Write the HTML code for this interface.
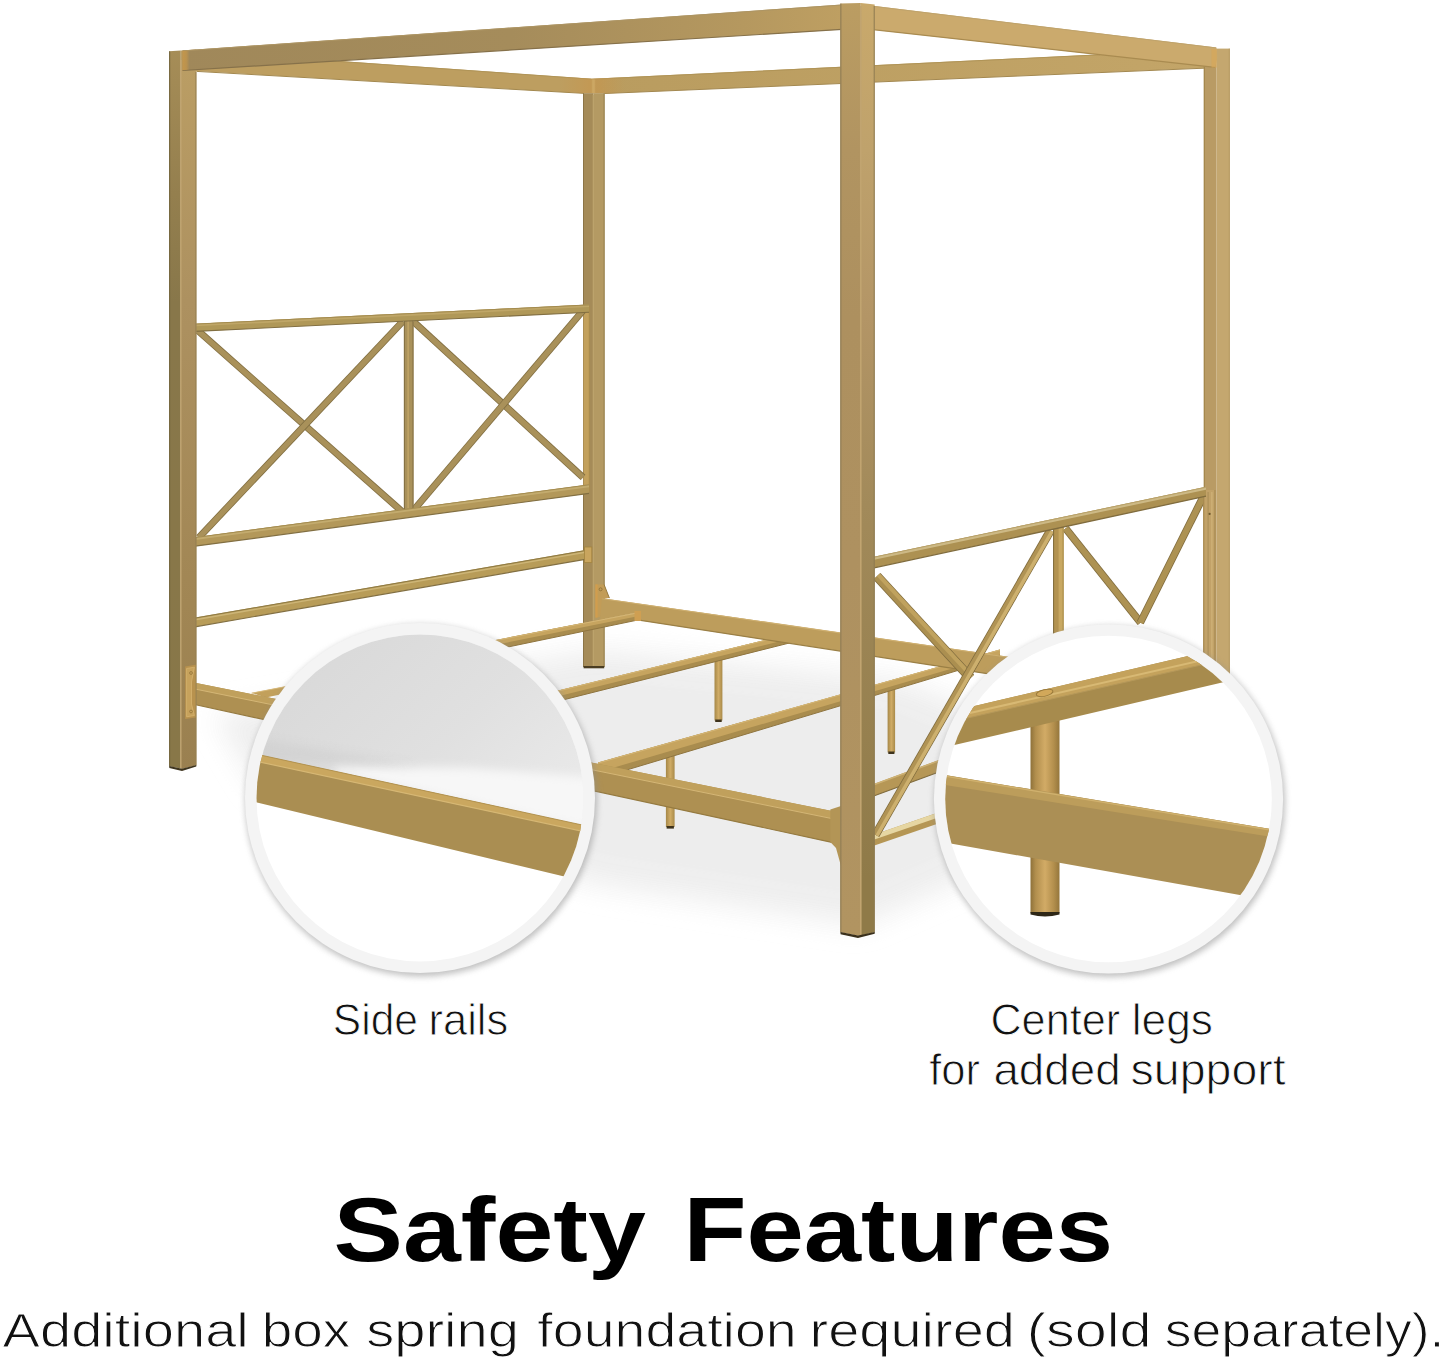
<!DOCTYPE html>
<html lang="en"><head><meta charset="utf-8"><title>Safety Features</title>
<style>html,body{margin:0;padding:0;background:#fff}body{width:1445px;height:1358px;overflow:hidden}svg{display:block}</style>
</head><body>
<svg width="1445" height="1358" viewBox="0 0 1445 1358">
<defs>
<filter id="fs" x="-20%" y="-20%" width="140%" height="140%"><feGaussianBlur stdDeviation="14"/></filter>
<filter id="wb" x="-10%" y="-40%" width="120%" height="180%"><feGaussianBlur stdDeviation="5"/></filter>
<filter id="ringsh" x="-10%" y="-10%" width="120%" height="120%"><feGaussianBlur stdDeviation="3.0"/></filter>
<clipPath id="cl"><circle cx="420.0" cy="798.0" r="163.5"/></clipPath>
<clipPath id="cr"><circle cx="1108.5" cy="799" r="163.3"/></clipPath>
<linearGradient id="lgrey" gradientUnits="userSpaceOnUse" x1="330" y1="640" x2="520" y2="840">
<stop offset="0" stop-color="#d9d9d9"/><stop offset="0.55" stop-color="#e0e0e0"/><stop offset="1" stop-color="#e9e9e9"/></linearGradient>
<linearGradient id="gA" gradientUnits="userSpaceOnUse" x1="0" y1="50" x2="0" y2="770">
<stop offset="0" stop-color="#bb9e64"/><stop offset="0.35" stop-color="#ad9160"/><stop offset="0.77" stop-color="#a18654"/><stop offset="1" stop-color="#9a8050"/></linearGradient>
<linearGradient id="gAL" gradientUnits="userSpaceOnUse" x1="0" y1="50" x2="0" y2="770">
<stop offset="0" stop-color="#a68d57"/><stop offset="0.2" stop-color="#947f4e"/><stop offset="0.35" stop-color="#88774a"/><stop offset="1" stop-color="#887748"/></linearGradient>
<linearGradient id="gCL" gradientUnits="userSpaceOnUse" x1="0" y1="0" x2="0" y2="935">
<stop offset="0" stop-color="#bb9d62"/><stop offset="0.16" stop-color="#b19461"/><stop offset="0.34" stop-color="#ad905f"/><stop offset="0.6" stop-color="#ae9160"/><stop offset="1" stop-color="#b19461"/></linearGradient>
<linearGradient id="gO" gradientUnits="userSpaceOnUse" x1="182.4" y1="0" x2="189.5" y2="0">
<stop offset="0" stop-color="#c6974a" stop-opacity="0.95"/><stop offset="0.55" stop-color="#c6974a" stop-opacity="0.7"/><stop offset="1" stop-color="#c6974a" stop-opacity="0"/></linearGradient>
<linearGradient id="gC" gradientUnits="userSpaceOnUse" x1="0" y1="0" x2="0" y2="935">
<stop offset="0" stop-color="#c9a96b"/><stop offset="0.16" stop-color="#bfa26c"/><stop offset="0.34" stop-color="#b39566"/><stop offset="0.54" stop-color="#a28a5a"/><stop offset="0.94" stop-color="#8f7a48"/></linearGradient>
<linearGradient id="gF" gradientUnits="userSpaceOnUse" x1="180" y1="0" x2="842" y2="0">
<stop offset="0" stop-color="#a0885a"/><stop offset="0.5" stop-color="#a58c5b"/><stop offset="0.85" stop-color="#b5985f"/><stop offset="1" stop-color="#be9f62"/></linearGradient>
<linearGradient id="gBK" gradientUnits="userSpaceOnUse" x1="590" y1="0" x2="1206" y2="0">
<stop offset="0" stop-color="#b99c5f"/><stop offset="1" stop-color="#c3a568"/></linearGradient>
<linearGradient id="gJ" gradientUnits="userSpaceOnUse" x1="560" y1="0" x2="625" y2="0">
<stop offset="0" stop-color="#c8944a" stop-opacity="0"/><stop offset="0.45" stop-color="#c8944a" stop-opacity="0.5"/><stop offset="0.62" stop-color="#c8944a" stop-opacity="0.5"/><stop offset="1" stop-color="#c8944a" stop-opacity="0"/></linearGradient>
<linearGradient id="cyl" x1="0" y1="0" x2="1" y2="0">
<stop offset="0" stop-color="#8e713a"/><stop offset="0.18" stop-color="#b28f4e"/><stop offset="0.5" stop-color="#d2ab66"/><stop offset="0.8" stop-color="#b38f4d"/><stop offset="1" stop-color="#94763c"/></linearGradient>
<linearGradient id="cyls" x1="0" y1="0" x2="1" y2="0">
<stop offset="0" stop-color="#a58747"/><stop offset="0.5" stop-color="#d0ac66"/><stop offset="1" stop-color="#a98a49"/></linearGradient>
</defs>
<rect x="0.0" y="0.0" width="1445.0" height="1358.0" fill="#ffffff" />
<g filter="url(#fs)" opacity="0.9">
<polygon points="215.0,715.0 600.0,650.0 900.0,680.0 985.0,715.0 985.0,870.0 860.0,925.0 600.0,885.0 260.0,790.0" fill="#ececec" />
</g>
<polygon points="591.6,78.8 1206.0,49.3 1206.0,68.1 604.4,93.5 593.5,93.3 593.5,78.9" fill="url(#gBK)" />
<line x1="604.4" y1="93.5" x2="1204.0" y2="68.2" stroke="#a38850" stroke-width="1.0" stroke-linecap="butt" />
<line x1="591.6" y1="79.3" x2="1100.0" y2="54.8" stroke="#b09457" stroke-width="1.0" stroke-linecap="butt" />
<polygon points="190.0,50.6 591.6,78.8 593.5,78.9 593.5,93.3 583.0,93.2 190.0,70.8" fill="#bd9e60" />
<line x1="196.5" y1="71.4" x2="583.0" y2="93.3" stroke="#a3884e" stroke-width="1.0" stroke-linecap="butt" />
<line x1="330.0" y1="60.8" x2="591.6" y2="79.2" stroke="#b09457" stroke-width="1.0" stroke-linecap="butt" />
<polygon points="560.0,76.6 591.6,78.8 625.0,77.2 625.0,92.7 604.4,93.5 583.0,93.2 560.0,91.9" fill="url(#gJ)" />
<rect x="591.8" y="79.4" width="3.4" height="13.9" fill="#cca863" opacity="0.8"/>
<rect x="583.0" y="93.2" width="10.3" height="573.8" fill="#a58b58" />
<rect x="593.3" y="93.2" width="11.3" height="573.8" fill="#b49a63" />
<rect x="583.0" y="93.2" width="1.0" height="573.8" fill="#8c7547" />
<rect x="603.6" y="93.2" width="1.0" height="573.8" fill="#96804f" />
<rect x="592.7" y="95.0" width="1.3" height="572.0" fill="#bca36c" />
<rect x="583.6" y="666.0" width="20.6" height="2.3" fill="#4a3d22" />
<rect x="1203.8" y="48.6" width="12.8" height="751.4" fill="#b99b64" />
<rect x="1216.6" y="48.6" width="13.2" height="751.4" fill="#c4a76f" />
<rect x="1203.8" y="60.0" width="1.0" height="740.0" fill="#a18449" />
<rect x="1228.8" y="48.6" width="1.0" height="751.4" fill="#b69a62" />
<rect x="714.5" y="653.0" width="7.9" height="67.5" fill="url(#cyls)" />
<rect x="715.2" y="719.5" width="6.5" height="2.5" fill="#3d321c" />
<polygon points="420.0,724.3 789.0,634.1 789.0,643.1 420.0,735.9" fill="#a98c4e" />
<polygon points="420.0,724.3 789.0,634.1 789.0,639.1 420.0,730.7" fill="#c6a45f" />
<line x1="420.0" y1="724.8" x2="789.0" y2="634.6" stroke="#d6b878" stroke-width="0.9" stroke-linecap="butt" />
<line x1="420.0" y1="735.9" x2="789.0" y2="643.1" stroke="#8f7540" stroke-width="1.0" stroke-linecap="butt" />
<rect x="665.9" y="753.0" width="8.7" height="74.0" fill="url(#cyls)" />
<rect x="666.6" y="826.0" width="7.3" height="2.6" fill="#3d321c" />
<rect x="887.6" y="688.0" width="7.5" height="64.5" fill="url(#cyls)" />
<rect x="888.3" y="751.5" width="6.1" height="2.5" fill="#3d321c" />
<polygon points="598.0,762.6 1000.0,649.4 1000.0,657.8 598.0,778.6" fill="#a98c4e" />
<polygon points="598.0,762.6 1000.0,649.4 1000.0,654.4 598.0,772.2" fill="#c6a45f" />
<line x1="598.0" y1="763.1" x2="1000.0" y2="649.9" stroke="#d6b878" stroke-width="0.9" stroke-linecap="butt" />
<line x1="598.0" y1="778.6" x2="1000.0" y2="657.8" stroke="#8f7540" stroke-width="1.0" stroke-linecap="butt" />
<polygon points="600.3,597.9 1010.0,657.1 1010.0,677.2 639.1,620.2 636.8,612.6 600.3,619.7" fill="#bd9d5c" />
<line x1="601.0" y1="598.5" x2="1010.0" y2="657.5" stroke="#cfb071" stroke-width="1.2" stroke-linecap="butt" />
<line x1="639.1" y1="620.2" x2="1010.0" y2="677.2" stroke="#9a7f45" stroke-width="1.2" stroke-linecap="butt" />
<polygon points="595.4,584.4 604.1,584.4 609.4,598.1 601.8,598.8 600.3,617.1 595.4,617.6" fill="#c29c57" />
<rect x="595.4" y="584.4" width="2.2" height="33.2" fill="#d19d4e" />
<line x1="604.1" y1="584.6" x2="609.4" y2="598.1" stroke="#967a40" stroke-width="1.0" stroke-linecap="butt" />
<circle cx="600.6" cy="589.3" r="1.5" fill="none" stroke="#8d6f35" stroke-width="0.8"/>
<polygon points="300.0,678.1 636.5,612.6 636.5,620.3 300.0,690.2" fill="#a98c4e" />
<polygon points="300.0,678.1 636.5,612.6 636.5,616.4 300.0,684.2" fill="#c6a45f" />
<line x1="300.0" y1="678.6" x2="636.5" y2="613.1" stroke="#d6b878" stroke-width="0.9" stroke-linecap="butt" />
<line x1="300.0" y1="690.2" x2="636.5" y2="620.3" stroke="#8f7540" stroke-width="1.0" stroke-linecap="butt" />
<polygon points="251.5,693.0 290.0,685.6 290.0,692.4 266.0,697.4" fill="#c2a05b" />
<line x1="251.5" y1="693.2" x2="290.0" y2="685.8" stroke="#d6b878" stroke-width="0.9" stroke-linecap="butt" />
<rect x="634.5" y="611.0" width="6.5" height="10.0" fill="#cf9f52" />
<rect x="583.4" y="306.0" width="6.2" height="186.0" fill="#c3a15c" />
<rect x="588.8" y="306.0" width="1.0" height="186.0" fill="#a88b4d" />
<line x1="198.0" y1="330.7" x2="402.5" y2="511.9" stroke="#826f42" stroke-width="7.0" stroke-linecap="butt" />
<line x1="198.0" y1="330.7" x2="402.5" y2="511.9" stroke="#a9915a" stroke-width="5.4" stroke-linecap="butt" />
<line x1="402.8" y1="321.3" x2="198.8" y2="537.6" stroke="#826f42" stroke-width="7.0" stroke-linecap="butt" />
<line x1="402.8" y1="321.3" x2="198.8" y2="537.6" stroke="#a9915a" stroke-width="5.4" stroke-linecap="butt" />
<line x1="413.5" y1="321.7" x2="583.0" y2="477.4" stroke="#826f42" stroke-width="7.0" stroke-linecap="butt" />
<line x1="413.5" y1="321.7" x2="583.0" y2="477.4" stroke="#a9915a" stroke-width="5.4" stroke-linecap="butt" />
<line x1="583.0" y1="310.5" x2="414.0" y2="509.7" stroke="#826f42" stroke-width="7.0" stroke-linecap="butt" />
<line x1="583.0" y1="310.5" x2="414.0" y2="509.7" stroke="#a9915a" stroke-width="5.4" stroke-linecap="butt" />
<rect x="403.9" y="318.0" width="9.6" height="192.0" fill="#a9915a" />
<rect x="403.9" y="318.0" width="1.0" height="192.0" fill="#826f42" />
<rect x="412.5" y="318.0" width="1.0" height="192.0" fill="#826f42" />
<rect x="407.5" y="320.0" width="1.2" height="188.0" fill="#c8aa69" />
<polygon points="195.0,323.7 589.0,304.5 589.0,312.2 195.0,331.4" fill="#b09858" />
<polygon points="195.0,323.7 589.0,304.5 589.0,307.1 195.0,326.3" fill="#bfa667" />
<line x1="195.0" y1="331.4" x2="589.0" y2="312.2" stroke="#826f42" stroke-width="1.1" stroke-linecap="butt" />
<line x1="195.0" y1="324.1" x2="589.0" y2="304.9" stroke="#9c8449" stroke-width="0.8" stroke-linecap="butt" />
<polygon points="195.0,537.2 589.0,484.4 589.0,493.4 195.0,546.2" fill="#b3985a" />
<polygon points="195.0,537.2 589.0,484.4 589.0,487.2 195.0,540.0" fill="#c3ab6e" />
<line x1="195.0" y1="546.2" x2="589.0" y2="493.4" stroke="#826f42" stroke-width="1.2" stroke-linecap="butt" />
<line x1="195.0" y1="537.6" x2="589.0" y2="484.8" stroke="#9c8449" stroke-width="0.8" stroke-linecap="butt" />
<polygon points="195.0,617.6 588.0,549.6 588.0,558.8 195.0,626.8" fill="#b89c58" />
<line x1="195.0" y1="626.8" x2="588.0" y2="558.8" stroke="#826f42" stroke-width="1.2" stroke-linecap="butt" />
<line x1="195.0" y1="618.1" x2="588.0" y2="550.1" stroke="#8e7a45" stroke-width="1.0" stroke-linecap="butt" />
<line x1="195.0" y1="619.8" x2="588.0" y2="551.8" stroke="#cdb577" stroke-width="1.4" stroke-linecap="butt" />
<rect x="584.5" y="547.0" width="7.3" height="15.6" fill="#c9a55e" stroke="#a3843f" stroke-width="0.8"/>
<polygon points="873.0,784.2 960.0,752.2 960.0,764.2 873.0,796.2" fill="#b69756" />
<line x1="873.0" y1="796.2" x2="960.0" y2="764.2" stroke="#806c3e" stroke-width="1.2" stroke-linecap="butt" />
<line x1="873.0" y1="785.0" x2="960.0" y2="753.0" stroke="#cdb174" stroke-width="1.4" stroke-linecap="butt" />
<polygon points="873.0,835.1 960.0,805.0 960.0,816.0 873.0,846.1" fill="#b59654" />
<polygon points="873.0,835.1 960.0,805.0 960.0,810.0 873.0,840.1" fill="#e6d6a2" />
<line x1="876.9" y1="576.2" x2="970.5" y2="678.0" stroke="#806c3e" stroke-width="9.8" stroke-linecap="butt" />
<line x1="876.9" y1="576.2" x2="970.5" y2="678.0" stroke="#ab8f50" stroke-width="8.2" stroke-linecap="butt" />
<line x1="878.4" y1="574.8" x2="972.0" y2="676.6" stroke="#c0a25e" stroke-width="4.1" stroke-linecap="butt" />
<line x1="1050.5" y1="530.5" x2="875.5" y2="834.8" stroke="#806c3e" stroke-width="8.6" stroke-linecap="butt" />
<line x1="1050.5" y1="530.5" x2="875.5" y2="834.8" stroke="#b09354" stroke-width="7.0" stroke-linecap="butt" />
<line x1="1052.0" y1="531.4" x2="877.0" y2="835.7" stroke="#cdb06e" stroke-width="3.5" stroke-linecap="butt" />
<line x1="1065.6" y1="528.4" x2="1140.6" y2="622.6" stroke="#806c3e" stroke-width="7.6" stroke-linecap="butt" />
<line x1="1065.6" y1="528.4" x2="1140.6" y2="622.6" stroke="#ad9253" stroke-width="6.0" stroke-linecap="butt" />
<line x1="1203.6" y1="496.0" x2="1140.3" y2="622.6" stroke="#806c3e" stroke-width="7.6" stroke-linecap="butt" />
<line x1="1203.6" y1="496.0" x2="1140.3" y2="622.6" stroke="#ad9253" stroke-width="6.0" stroke-linecap="butt" />
<rect x="1053.1" y="526.0" width="10.4" height="174.0" fill="#b39351" />
<rect x="1058.6" y="526.0" width="4.9" height="174.0" fill="#c8a862" />
<rect x="1053.1" y="526.0" width="1.0" height="174.0" fill="#806c3e" />
<rect x="1062.6" y="526.0" width="0.9" height="174.0" fill="#a58949" />
<rect x="1203.3" y="490.0" width="11.9" height="310.0" fill="#c2a268" />
<rect x="1207.6" y="492.0" width="1.0" height="308.0" fill="#a98d55" />
<rect x="1211.4" y="492.0" width="1.0" height="308.0" fill="#d2b67c" />
<rect x="1214.4" y="490.0" width="1.0" height="310.0" fill="#a58a52" />
<rect x="1203.3" y="490.0" width="1.0" height="310.0" fill="#a18449" />
<circle cx="1209.6" cy="513.9" r="1.1" fill="#6f5a2e"/>
<polygon points="873.0,557.0 1206.0,486.8 1206.0,496.2 873.0,568.1" fill="#ad9152" />
<polygon points="873.0,557.0 1206.0,486.8 1206.0,489.8 873.0,560.0" fill="#cdb985" />
<line x1="873.0" y1="568.1" x2="1206.0" y2="496.2" stroke="#806c3e" stroke-width="1.3" stroke-linecap="butt" />
<line x1="873.0" y1="557.4" x2="1206.0" y2="487.2" stroke="#b39a62" stroke-width="0.8" stroke-linecap="butt" />
<polygon points="190.0,681.7 832.0,811.0 832.0,842.4 190.0,703.5" fill="#ae9052" />
<polygon points="190.0,681.7 832.0,811.0 832.0,818.6 190.0,688.0" fill="#c0a05c" />
<line x1="190.0" y1="688.0" x2="832.0" y2="818.6" stroke="#d4b676" stroke-width="1.0" stroke-linecap="butt" />
<line x1="190.0" y1="703.5" x2="832.0" y2="842.4" stroke="#957a40" stroke-width="1.2" stroke-linecap="butt" />
<polygon points="830.3,809.6 841.0,806.0 841.0,866.0 836.0,848.0 830.3,842.0" fill="#b39556" />
<polygon points="169.1,51.3 180.8,50.5 180.8,768.6 169.1,766.2" fill="url(#gAL)" />
<polygon points="180.8,50.5 196.4,49.4 196.4,765.2 182.0,768.9 180.8,768.6" fill="url(#gA)" />
<rect x="169.1" y="51.3" width="1.1" height="715.1" fill="#75663f" />
<rect x="180.2" y="60.0" width="1.3" height="708.0" fill="#c2a672" />
<rect x="195.4" y="72.0" width="1.0" height="693.3" fill="#968052" />
<polygon points="169.3,766.0 182.0,768.7 196.3,765.0 196.3,766.6 182.0,770.9 169.3,768.0" fill="#3f351f" />
<polygon points="185.2,666.5 195.6,664.8 195.6,717.5 185.2,719.0" fill="#b8924e" />
<polygon points="186.6,668.5 194.4,667.2 191.5,682.0 191.5,704.0 194.4,715.5 186.6,716.8" fill="#c7a25c" stroke="#d9b673" stroke-width="0.7"/>
<circle cx="191.0" cy="673.0" r="1.4" fill="none" stroke="#8d6f35" stroke-width="0.7"/>
<circle cx="191.0" cy="711.5" r="1.4" fill="none" stroke="#8d6f35" stroke-width="0.7"/>
<polygon points="182.5,50.4 842.0,4.5 842.0,29.4 182.5,70.5" fill="url(#gF)" />
<line x1="182.5" y1="70.5" x2="842.0" y2="29.4" stroke="#86714a" stroke-width="1.2" stroke-linecap="butt" />
<line x1="182.5" y1="50.9" x2="842.0" y2="5.0" stroke="#ad9564" stroke-width="1.0" stroke-linecap="butt" />
<polygon points="182.4,51.0 189.5,50.5 189.5,69.7 182.4,70.3" fill="url(#gO)" />
<polygon points="873.0,5.8 1216.5,47.5 1217.5,58.0 1215.0,67.4 873.0,29.7" fill="#cbaa6d" />
<line x1="873.0" y1="29.7" x2="1215.0" y2="67.4" stroke="#a98b50" stroke-width="1.2" stroke-linecap="butt" />
<line x1="873.0" y1="6.3" x2="1216.0" y2="47.9" stroke="#bfa36c" stroke-width="1.0" stroke-linecap="butt" />
<rect x="1211.5" y="49.0" width="5.3" height="18.5" fill="#d6a75a" opacity="0.7"/>
<polygon points="840.3,3.6 860.8,3.0 860.8,935.6 858.0,935.8 840.3,932.3" fill="url(#gCL)" />
<polygon points="860.8,3.0 874.7,4.6 874.7,932.2 860.8,935.6" fill="url(#gC)" />
<rect x="840.3" y="3.6" width="1.1" height="928.8" fill="#8f7c55" />
<rect x="860.0" y="6.0" width="1.6" height="929.0" fill="#c1a470" />
<rect x="873.7" y="6.0" width="1.0" height="926.3" fill="#8d7a50" />
<polygon points="840.5,932.0 858.0,935.5 874.7,931.9 874.7,933.7 858.0,938.0 840.5,934.3" fill="#3a301c" />
<circle cx="420.0" cy="798.0" r="175.8" fill="#8c8c8c" opacity="0.55" filter="url(#ringsh)" transform="translate(1.2,2.6)"/>
<circle cx="420.0" cy="798.0" r="175.0" fill="#f4f4f4"/>
<circle cx="420.0" cy="798.0" r="163.5" fill="#ffffff"/>
<g clip-path="url(#cl)">
<polygon points="240.0,620.0 600.0,620.0 600.0,828.9 240.0,750.6" fill="url(#lgrey)" />
<polygon points="335,766 470,768 600,778 600,832 335,774" fill="#f7f7f7" filter="url(#wb)"/>
<polygon points="245,736 420,766 245,762" fill="#c8c8c8" opacity="0.4" filter="url(#wb)"/>
<polygon points="240.0,750.6 600.0,828.9 600.0,885.1 240.0,798.4" fill="#aa8e52" />
<polygon points="240.0,750.6 600.0,828.9 600.0,835.0 240.0,757.8" fill="#caa75f" />
<line x1="240.0" y1="757.8" x2="600.0" y2="835.0" stroke="#d6b774" stroke-width="1.2" stroke-linecap="butt" />
<line x1="240.0" y1="750.6" x2="600.0" y2="828.9" stroke="#b39350" stroke-width="1.0" stroke-linecap="butt" />
</g>
<circle cx="1108.5" cy="799.0" r="175.4" fill="#8c8c8c" opacity="0.55" filter="url(#ringsh)" transform="translate(1.2,2.6)"/>
<circle cx="1108.5" cy="799.0" r="174.6" fill="#f4f4f4"/>
<circle cx="1108.5" cy="799" r="163.3" fill="#ffffff"/>
<g clip-path="url(#cr)">
<rect x="1030.5" y="700.0" width="29.0" height="213.0" fill="url(#cyl)" />
<path d="M1030.5 912 L1059.5 912 L1059.5 914.5 Q1045 918.5 1030.5 914.5 Z" fill="#2e2717"/>
<polygon points="930.0,716.4 1290.0,632.1 1290.0,666.6 930.0,750.8" fill="#a78b4d" />
<polygon points="930.0,716.4 1290.0,632.1 1290.0,644.8 930.0,726.6" fill="#c4a25c" />
<line x1="930.0" y1="722.1" x2="1290.0" y2="640.3" stroke="#d8b974" stroke-width="2.0" stroke-linecap="butt" />
<line x1="930.0" y1="726.6" x2="1290.0" y2="644.8" stroke="#b5985a" stroke-width="1.0" stroke-linecap="butt" />
<ellipse cx="1044.6" cy="692.9" rx="8.5" ry="3.3" fill="#d2a85a" stroke="#9b7b3c" stroke-width="1" transform="rotate(-13 1044.6 692.9)"/>
<polygon points="930.0,772.6 1290.0,832.3 1290.0,903.9 930.0,839.7" fill="#ab8f55" />
<polygon points="930.0,772.6 1290.0,832.3 1290.0,839.9 930.0,782.6" fill="#bc9d5b" />
<line x1="930.0" y1="773.6" x2="1290.0" y2="833.3" stroke="#d0b16e" stroke-width="1.4" stroke-linecap="butt" />
</g>
<text y="1034.9" font-family="'Liberation Sans', Arial, Helvetica, sans-serif" font-size="43.6" font-weight="400" fill="#111111" stroke="#ffffff" stroke-width="0.90"><tspan x="332.80" textLength="85.17" lengthAdjust="spacingAndGlyphs">Side</tspan> <tspan x="428.60" textLength="79.65" lengthAdjust="spacingAndGlyphs">rails</tspan></text>
<text y="1034.7" font-family="'Liberation Sans', Arial, Helvetica, sans-serif" font-size="43.6" font-weight="400" fill="#111111" stroke="#ffffff" stroke-width="0.90"><tspan x="990.40" textLength="129.77" lengthAdjust="spacingAndGlyphs">Center</tspan> <tspan x="1131.79" textLength="81.19" lengthAdjust="spacingAndGlyphs">legs</tspan></text>
<text y="1085.0" font-family="'Liberation Sans', Arial, Helvetica, sans-serif" font-size="43.6" font-weight="400" fill="#111111" stroke="#ffffff" stroke-width="0.90"><tspan x="929.19" textLength="50.79" lengthAdjust="spacingAndGlyphs">for</tspan> <tspan x="993.40" textLength="127.25" lengthAdjust="spacingAndGlyphs">added</tspan> <tspan x="1130.60" textLength="155.04" lengthAdjust="spacingAndGlyphs">support</tspan></text>
<text y="1260.9" font-family="'Liberation Sans', Arial, Helvetica, sans-serif" font-size="91.6" font-weight="700" fill="#000000"><tspan x="333.60" textLength="312.24" lengthAdjust="spacingAndGlyphs">Safety</tspan> <tspan x="683.60" textLength="429.44" lengthAdjust="spacingAndGlyphs">Features</tspan></text>
<text y="1346.6" font-family="'Liberation Sans', Arial, Helvetica, sans-serif" font-size="48.2" font-weight="400" fill="#111111" stroke="#ffffff" stroke-width="1.00"><tspan x="2.55" textLength="246.29" lengthAdjust="spacingAndGlyphs">Additional</tspan> <tspan x="261.75" textLength="88.51" lengthAdjust="spacingAndGlyphs">box</tspan> <tspan x="366.15" textLength="152.87" lengthAdjust="spacingAndGlyphs">spring</tspan> <tspan x="537.35" textLength="259.34" lengthAdjust="spacingAndGlyphs">foundation</tspan> <tspan x="809.55" textLength="205.35" lengthAdjust="spacingAndGlyphs">required</tspan> <tspan x="1026.75" textLength="124.67" lengthAdjust="spacingAndGlyphs">(sold</tspan> <tspan x="1164.75" textLength="279.73" lengthAdjust="spacingAndGlyphs">separately).</tspan></text>
</svg>
</body></html>
